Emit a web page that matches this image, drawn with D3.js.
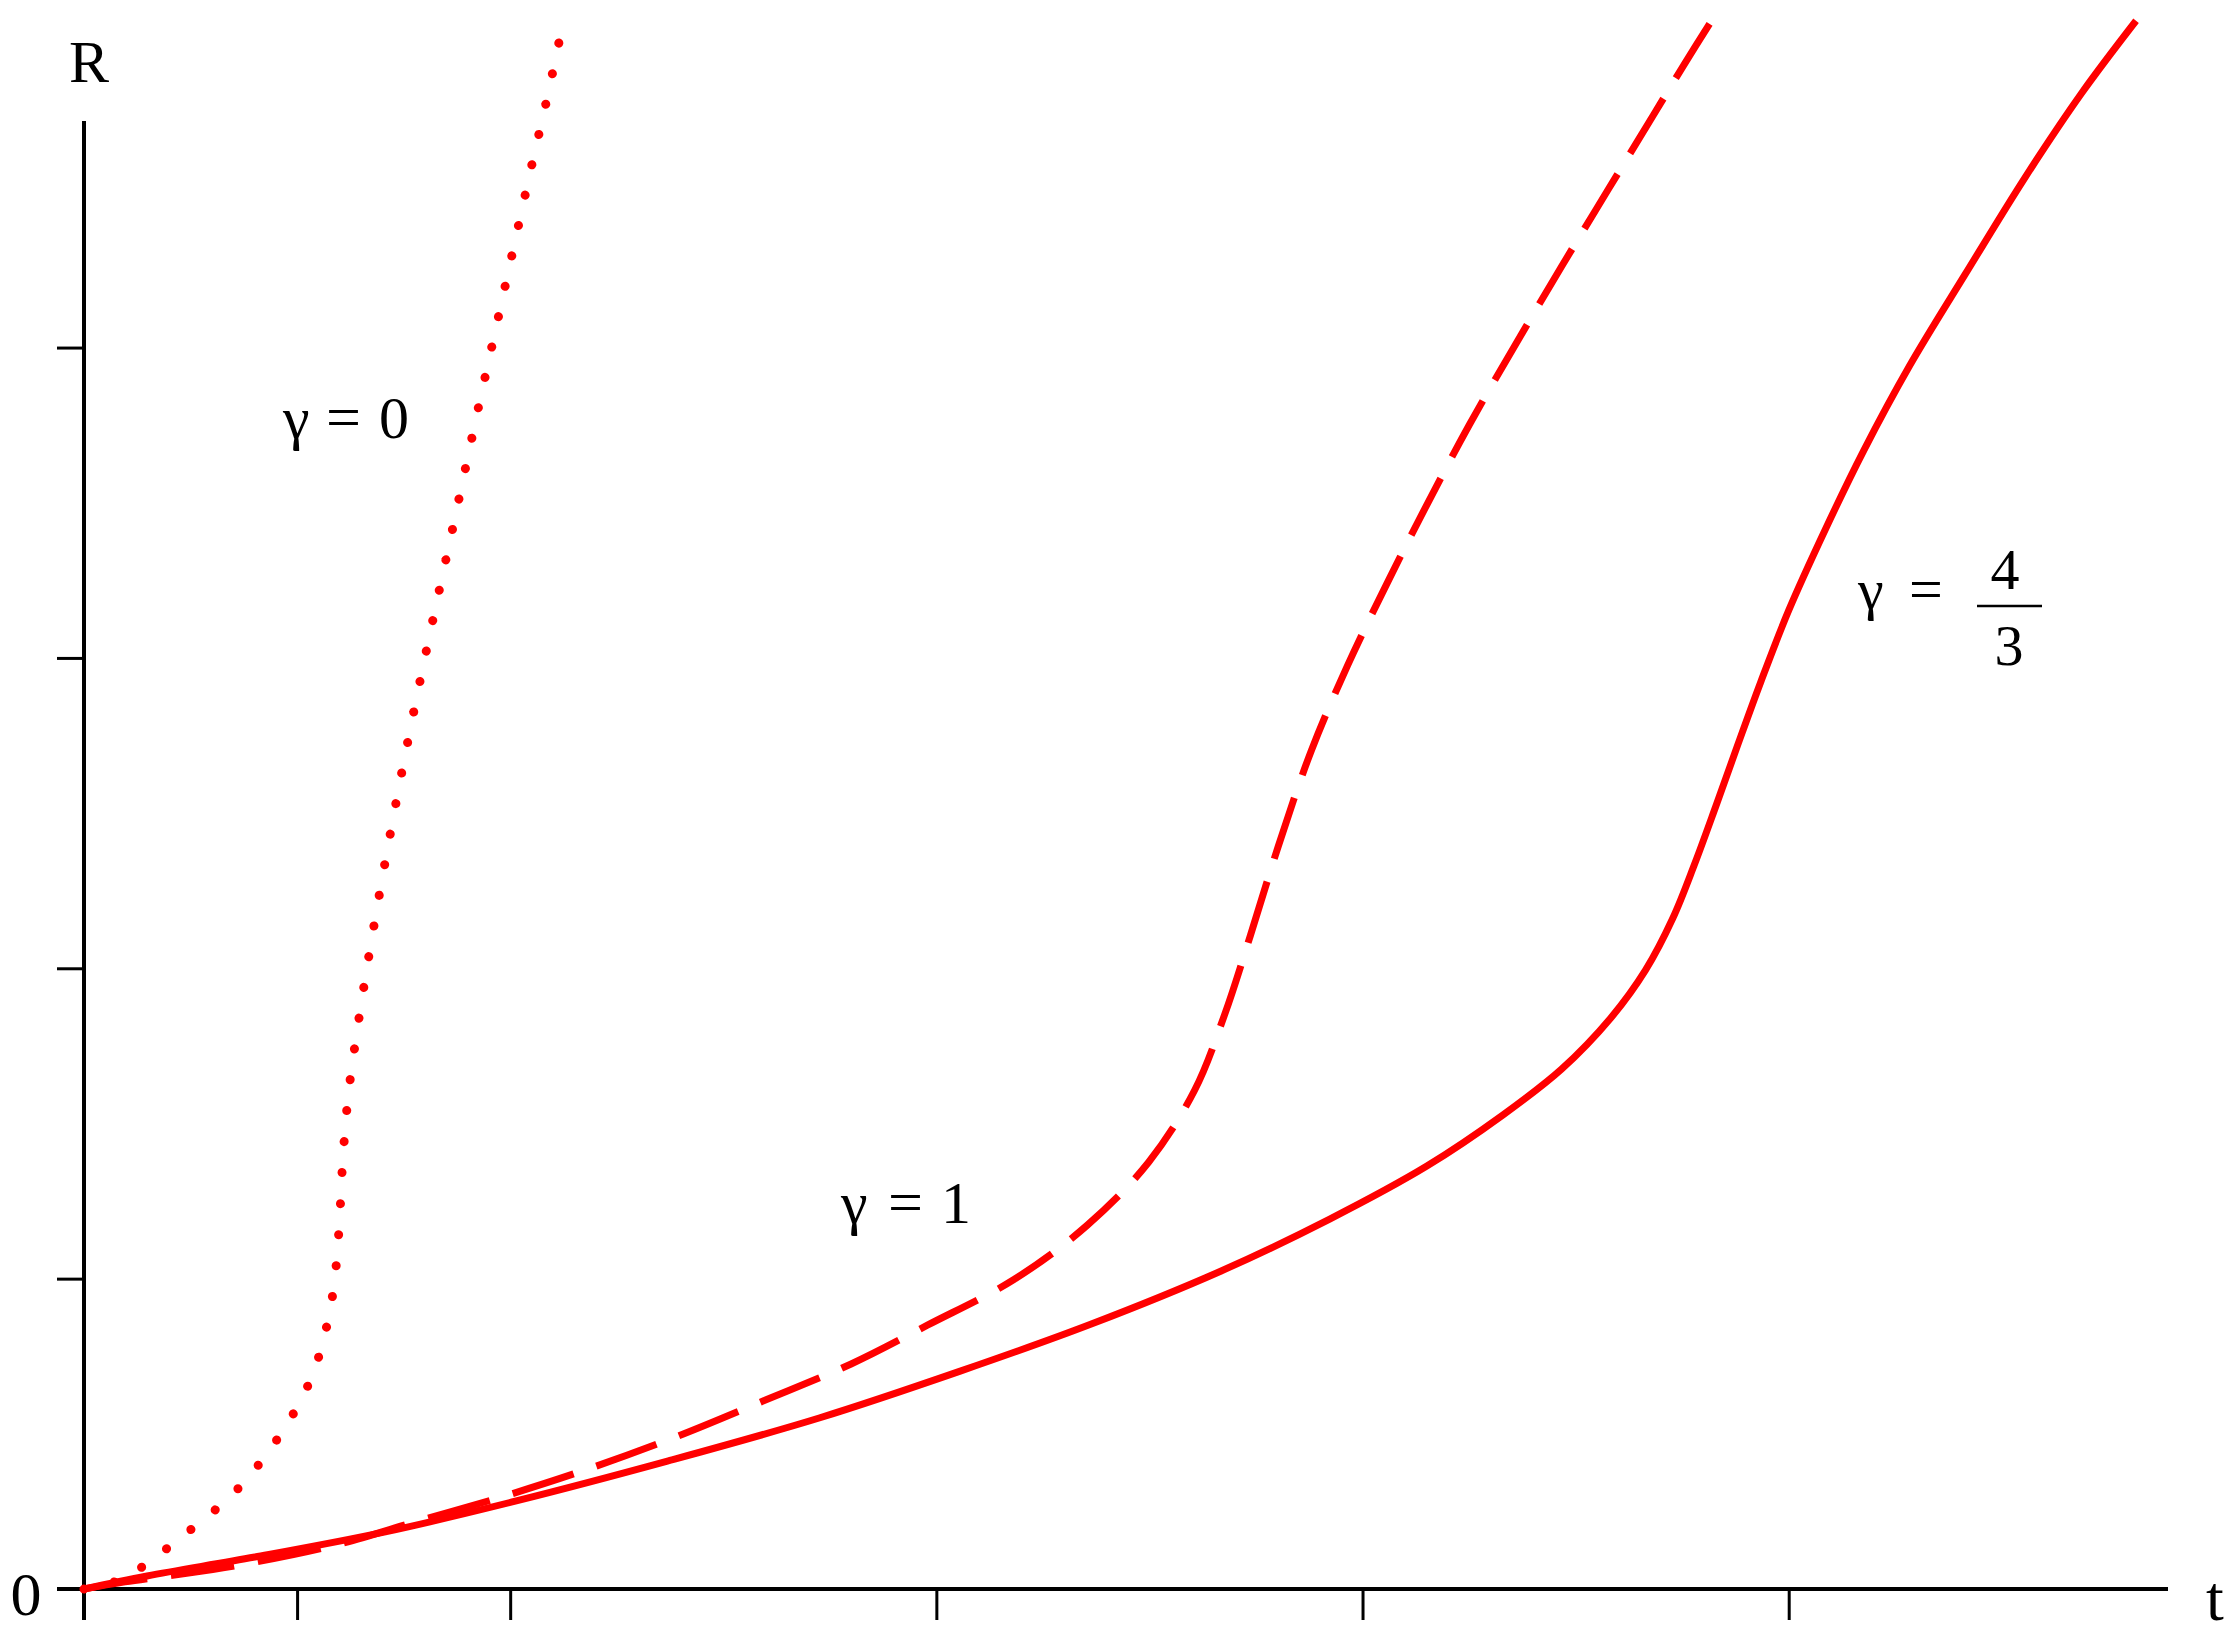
<!DOCTYPE html>
<html lang="en">
<head>
<meta charset="utf-8">
<script src="https://cdn.jsdelivr.net/npm/d3@7"></script>
<style>
  html, body { margin: 0; padding: 0; background: #fff; }
  svg { display: block; }
</style>
</head>
<body>
<div id="chart"></div>
<script>
  'use strict';

  // gamma = 0, dotted curve
  const tGamma0 = [0, 0.09, 0.155, 0.211, 0.27, 0.329, 0.38, 0.425, 0.469, 0.505, 0.538, 0.559, 0.577, 0.588,
    0.595, 0.600, 0.608, 0.621, 0.641, 0.664, 0.689, 0.715, 0.742, 0.771, 0.801, 0.832, 0.863, 0.894,
    0.925, 0.957, 0.989, 1.021, 1.053, 1.086, 1.12];
  const rGamma0 = [0, 0.032, 0.09, 0.148, 0.213, 0.28, 0.351, 0.428, 0.515, 0.599, 0.696, 0.789, 0.895, 0.995,
    1.095, 1.198, 1.398, 1.601, 1.8, 2.003, 2.206, 2.406, 2.605, 2.808, 3.008, 3.208, 3.404, 3.604,
    3.804, 4.003, 4.203, 4.403, 4.602, 4.799, 5.02];

  // gamma = 1, dashed curve
  const tGamma1 = [0, 0.096, 0.326, 0.580, 0.784, 0.988, 1.190, 1.394, 1.599, 1.800, 1.979, 2.183, 2.354, 2.498,
    2.606, 2.676, 2.737, 2.803, 2.880, 2.965, 3.061, 3.150, 3.251, 3.359, 3.467, 3.575, 3.683, 3.756, 3.822];
  const rGamma1 = [0, 0.023, 0.068, 0.138, 0.219, 0.300, 0.390, 0.493, 0.609, 0.725, 0.850, 0.998, 1.172, 1.375,
    1.607, 1.849, 2.106, 2.396, 2.702, 2.976, 3.250, 3.491, 3.752, 4.010, 4.261, 4.506, 4.750, 4.915, 5.060];

  // gamma = 4/3, solid curve
  const tGamma43 = [0, 0.148, 0.401, 0.707, 1.012, 1.369, 1.725, 2.056, 2.362, 2.667, 2.923, 3.150, 3.329, 3.467,
    3.582, 3.664, 3.728, 3.779, 3.829, 3.880, 3.934, 4.000, 4.087, 4.176, 4.284, 4.415, 4.556, 4.688, 4.815];
  const rGamma43 = [0, 0.042, 0.103, 0.184, 0.283, 0.412, 0.551, 0.702, 0.853, 1.024, 1.192, 1.362, 1.527, 1.675,
    1.839, 1.994, 2.161, 2.335, 2.522, 2.718, 2.921, 3.153, 3.417, 3.668, 3.942, 4.238, 4.551, 4.821, 5.053];

  const xTicks = [0.5, 1, 2, 3, 4];
  const yTicks = [1, 2, 3, 4];

  const width = 2229;
  const height = 1640;
  const red = "#ff0000";
  const serif = "'Liberation Serif', 'DejaVu Serif', serif";

  const x = d3.scaleLinear().domain([0, 4.89]).range([84, 2168]);
  const y = d3.scaleLinear().domain([0, 4.73]).range([1589, 121]);

  const svg = d3.select("#chart").append("svg")
    .attr("width", width)
    .attr("height", height);

  svg.append("defs").append("clipPath")
    .attr("id", "plotClip")
    .append("rect")
    .attr("x", x(0) - 6)
    .attr("y", y(5.07))
    .attr("width", width - x(0) + 6)
    .attr("height", y(0) - y(5.07) + 6);

  // axes
  const xAxis = svg.append("g")
    .attr("transform", `translate(0, ${y(0)})`)
    .call(d3.axisBottom(x).tickValues(xTicks).tickSize(31).tickFormat(""));
  xAxis.select(".domain").remove();
  xAxis.selectAll(".tick line").attr("stroke", "#000").attr("stroke-width", 3);

  const yAxis = svg.append("g")
    .attr("transform", `translate(${x(0)}, 0)`)
    .call(d3.axisLeft(y).tickValues(yTicks).tickSize(27).tickFormat(""));
  yAxis.select(".domain").remove();
  yAxis.selectAll(".tick line").attr("stroke", "#000").attr("stroke-width", 3);

  svg.append("line")
    .attr("x1", x(0) - 27).attr("x2", x(4.89))
    .attr("y1", y(0)).attr("y2", y(0))
    .attr("stroke", "#000").attr("stroke-width", 4);
  svg.append("line")
    .attr("x1", x(0)).attr("x2", x(0))
    .attr("y1", y(0) + 31).attr("y2", y(4.73))
    .attr("stroke", "#000").attr("stroke-width", 4);

  // curves
  const line = d3.line()
    .x(d => x(d[0]))
    .y(d => y(d[1]))
    .curve(d3.curveCatmullRom.alpha(0.5));

  const plot = svg.append("g").attr("clip-path", "url(#plotClip)");

  const series = [
    { t: tGamma0, r: rGamma0, dash: "0.1,31", width: 9, cap: "round" },
    { t: tGamma1, r: rGamma1, dash: "64,24", width: 7, cap: "butt" },
    { t: tGamma43, r: rGamma43, dash: null, width: 7, cap: "butt" }
  ];

  series.forEach(s => {
    plot.append("path")
      .datum(d3.zip(s.t, s.r))
      .attr("d", line)
      .attr("fill", "none")
      .attr("stroke", red)
      .attr("stroke-width", s.width)
      .attr("stroke-linecap", s.cap)
      .attr("stroke-dasharray", s.dash);
  });

  // axis labels
  const label = (txt, px, py, size, anchor = "start") =>
    svg.append("text")
      .attr("x", px).attr("y", py)
      .attr("text-anchor", anchor)
      .style("font-family", serif)
      .style("font-size", size + "px")
      .style("fill", "#000")
      .text(txt);

  label("R", 89, 82, 60, "middle");
  label("0", 26, 1615, 62, "middle");
  label("t", 2215, 1620, 64, "middle");

  // curve labels
  label("γ", 283, 438, 60);
  label("=", 326, 438, 62);
  label("0", 379, 438, 60);

  label("γ", 841, 1223, 60);
  label("=", 888, 1223, 62);
  label("1", 941, 1223, 60);

  label("γ", 1858, 609, 58);
  label("=", 1909, 609, 60);
  label("4", 2005, 589, 58, "middle");
  label("3", 2009, 665, 58, "middle");
  svg.append("line")
    .attr("x1", 1977).attr("x2", 2042)
    .attr("y1", 606).attr("y2", 606)
    .attr("stroke", "#000").attr("stroke-width", 2.5);
</script>
</body>
</html>
